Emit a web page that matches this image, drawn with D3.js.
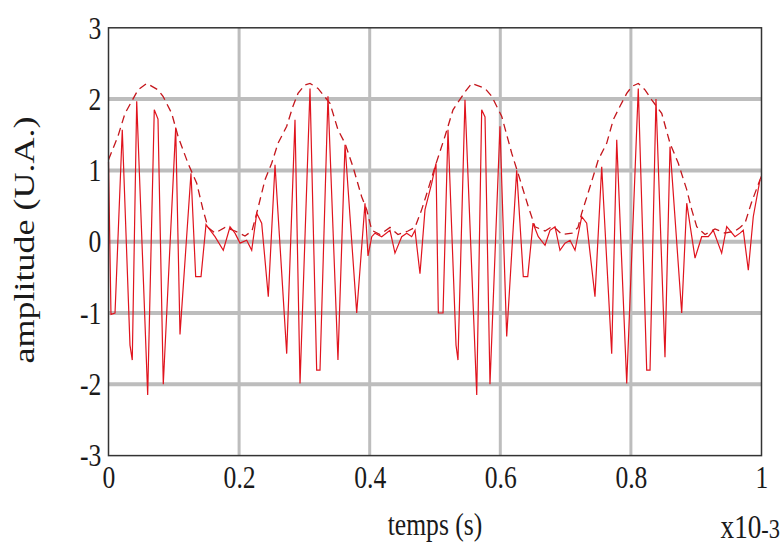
<!DOCTYPE html>
<html>
<head>
<meta charset="utf-8">
<script src="https://cdn.jsdelivr.net/npm/d3@7/dist/d3.min.js"></script>
<style>
  html, body { margin: 0; padding: 0; background: #fff; }
  svg { display: block; }
</style>
</head>
<body>
<svg id="chart" width="781" height="550"></svg>
<script>
// time in units of 1e-3 s
const signalTime = [
  0.000, 0.0038, 0.0100, 0.0211, 0.0329, 0.0364, 0.0432, 0.0600, 0.0701, 0.0758,
  0.0839, 0.1029, 0.1095, 0.1263, 0.1335, 0.1417, 0.1493, 0.1631, 0.1758, 0.1861,
  0.1937, 0.2014, 0.2116, 0.2193, 0.2270, 0.2346, 0.2447,
  0.2550, 0.2729, 0.2856, 0.2933, 0.3086, 0.3188, 0.3239, 0.3361, 0.3514, 0.3622,
  0.3801, 0.3928, 0.3974, 0.4031, 0.4081, 0.4184, 0.4311, 0.4387, 0.4490, 0.4567,
  0.4643, 0.4694, 0.4770, 0.4847, 0.4950,
  0.5015, 0.5051, 0.5123, 0.5199, 0.5322, 0.5352, 0.5459, 0.5639, 0.5715, 0.5766,
  0.5842, 0.5995, 0.6098, 0.6251, 0.6352, 0.6420, 0.6501, 0.6582, 0.6685, 0.6761,
  0.6838, 0.6914, 0.6991, 0.7068, 0.7144, 0.7247, 0.7323, 0.7450,
  0.7553, 0.7706, 0.7783, 0.7936, 0.8113, 0.8242, 0.8293, 0.8384, 0.8522, 0.8599,
  0.8778, 0.8855, 0.8982, 0.9084, 0.9185, 0.9262, 0.9390, 0.9467, 0.9594, 0.9671,
  0.9721, 0.9798, 0.9874, 0.9977, 1.000
];
const signalValue = [
  1.12, -1.02, -1.00, 1.57, -1.45, -1.66, 1.97, -2.15, 1.85, 1.72,
  -2.00, 1.60, -1.30, 0.96, -0.49, -0.49, 0.24, 0.07, -0.12, 0.21,
  0.12, -0.02, 0.02, -0.12, 0.40, 0.26, -0.77,
  1.08, -1.57, 1.71, -1.99, 2.15, -1.80, -1.80, 2.04, -1.66, 1.36,
  -1.00, 0.54, -0.20, 0.07, 0.12, 0.07, 0.16, -0.16, 0.07, 0.12,
  0.07, 0.16, -0.45, 0.45, 0.82,
  1.10, -1.00, -1.00, 1.57, -1.45, -1.66, 1.99, -2.15, 1.85, 1.75,
  -2.00, 1.62, -1.33, 1.00, -0.49, -0.49, 0.26, 0.07, -0.05, 0.16,
  0.21, -0.12, -0.02, 0.02, -0.12, 0.35, 0.26, -0.77,
  1.05, -1.57, 1.43, -1.99, 2.15, -1.80, -1.80, 2.00, -1.62, 1.33,
  -1.00, 0.54, -0.23, 0.07, 0.07, 0.16, -0.16, 0.21, 0.07, 0.12,
  0.16, -0.40, 0.35, 0.87, 0.92
];
const envelopeTime = [
  0.000, 0.0145, 0.0253, 0.0452, 0.0585, 0.0758, 0.0835, 0.0968, 0.1064, 0.1217,
  0.1351, 0.1447, 0.1524, 0.1631, 0.1784, 0.1937, 0.2090, 0.2197,
  0.2270, 0.2397, 0.2499, 0.2596, 0.2729, 0.2825, 0.2902, 0.3009, 0.3086, 0.3208,
  0.3392, 0.3514, 0.3622, 0.3744, 0.3877, 0.3954, 0.4031, 0.4158, 0.4311, 0.4433,
  0.4587, 0.4694,
  0.4796, 0.4893, 0.5000, 0.5153, 0.5276, 0.5459, 0.5562, 0.5766, 0.5868, 0.6021,
  0.6175, 0.6302, 0.6429, 0.6531, 0.6685, 0.6807, 0.6945, 0.7098, 0.7190,
  0.7247, 0.7374, 0.7501, 0.7629, 0.7730, 0.7833, 0.7936, 0.8017, 0.8113, 0.8216,
  0.8319, 0.8472, 0.8599, 0.8726, 0.8855, 0.8931, 0.9008, 0.9135, 0.9288, 0.9441,
  0.9594, 0.9671, 0.9748, 0.9843, 0.9977
];
const envelopeValue = [
  1.15, 1.48, 1.80, 2.13, 2.22, 2.13, 2.04, 1.80, 1.48, 1.10,
  0.82, 0.45, 0.20, 0.12, 0.20, 0.15, 0.08, 0.15,
  0.40, 0.87, 1.10, 1.38, 1.62, 1.90, 2.08, 2.20, 2.22, 2.15,
  1.94, 1.57, 1.38, 1.05, 0.63, 0.45, 0.16, 0.10, 0.20, 0.10,
  0.15, 0.20,
  0.45, 0.73, 1.05, 1.48, 1.85, 2.10, 2.22, 2.15, 2.04, 1.76,
  1.24, 0.87, 0.49, 0.21, 0.15, 0.22, 0.10, 0.12, 0.20,
  0.40, 0.77, 1.15, 1.38, 1.71, 1.90, 2.08, 2.18, 2.22, 2.13,
  1.99, 1.80, 1.38, 1.10, 0.73, 0.45, 0.21, 0.10, 0.18, 0.12,
  0.15, 0.20, 0.26, 0.54, 0.87
];
const xTicks = [0, 0.2, 0.4, 0.6, 0.8, 1];
const yTicks = [-3, -2, -1, 0, 1, 2, 3];
const xLabel = "temps (s)";
const yLabel = "amplitude (U.A.)";
const xMultiplier = "x10";
const xMultiplierExp = "-3";

(function () {
const svg = d3.select("#chart");
const pl = 108.5, pr = 761.5, pt = 27.8, pb = 455.6;
const x = d3.scaleLinear().domain([0, 1]).range([pl, pr]);
const y = d3.scaleLinear().domain([-3, 3]).range([pb, pt]);
const font = "'Liberation Serif', 'Times New Roman', serif";
const ink = "#1a1a1a";

// grid
svg.append("g").selectAll("line").data(yTicks.filter(d => d > -3 && d < 3)).join("line")
  .attr("x1", pl).attr("x2", pr)
  .attr("y1", d => y(d)).attr("y2", d => y(d))
  .attr("stroke", "#bdbdbd").attr("stroke-width", 4);
svg.append("g").selectAll("line").data(xTicks.filter(d => d > 0 && d < 1)).join("line")
  .attr("y1", pt).attr("y2", pb)
  .attr("x1", d => x(d)).attr("x2", d => x(d))
  .attr("stroke", "#bdbdbd").attr("stroke-width", 3);

// data lines
const sig = signalTime.map((t, i) => [t, signalValue[i]]);
const env = envelopeTime.map((t, i) => [t, envelopeValue[i]]);
const line = d3.line().x(d => x(d[0])).y(d => y(d[1]));

svg.append("path").datum(env).attr("d", line)
  .attr("fill", "none").attr("stroke", "#c4161c").attr("stroke-width", 1.3)
  .attr("stroke-dasharray", "8,5");
svg.append("path").datum(sig).attr("d", line)
  .attr("fill", "none").attr("stroke", "#e0141e").attr("stroke-width", 1.2)
  .attr("stroke-linejoin", "miter");

// frame
svg.append("rect").attr("x", pl).attr("y", pt)
  .attr("width", pr - pl).attr("height", pb - pt)
  .attr("fill", "none").attr("stroke", "#333").attr("stroke-width", 1.5);

// axes via d3 axis (tick labels only)
const xAxis = d3.axisBottom(x).tickValues(xTicks).tickSize(0).tickPadding(10)
  .tickFormat(d => String(d));
const gx = svg.append("g").attr("transform", `translate(0,${pb})`).call(xAxis);
gx.select(".domain").remove();
gx.selectAll("text").attr("font-family", font).attr("font-size", 32).attr("fill", ink)
  .attr("transform", "scale(0.8,1)");

const yAxis = d3.axisLeft(y).tickValues(yTicks).tickSize(0).tickPadding(9)
  .tickFormat(d => String(d));
const gy = svg.append("g").attr("transform", `translate(${pl},0)`).call(yAxis);
gy.select(".domain").remove();
gy.selectAll("text").attr("font-family", font).attr("font-size", 32).attr("fill", ink)
  .attr("transform", "scale(0.8,1)");

// labels
svg.append("text").attr("transform", "translate(435,535) scale(0.8,1)")
  .attr("text-anchor", "middle")
  .attr("font-family", font).attr("font-size", 32).attr("fill", ink).text(xLabel);
const mult = svg.append("text").attr("transform", "translate(780,538) scale(0.8,1)")
  .attr("text-anchor", "end")
  .attr("font-family", font).attr("font-size", 34).attr("fill", ink);
mult.append("tspan").text(xMultiplier);
mult.append("tspan").attr("font-size", 28).text(xMultiplierExp);
svg.append("text").attr("transform", "translate(34,240) rotate(-90) scale(1,0.8)")
  .attr("text-anchor", "middle")
  .attr("font-family", font).attr("font-size", 36).attr("fill", ink).text(yLabel);
})();
</script>
</body>
</html>
